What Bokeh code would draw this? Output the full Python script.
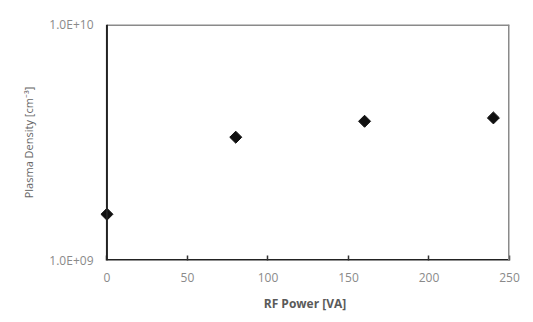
import math
from bokeh.plotting import figure
from bokeh.models import FixedTicker, CustomJSTickFormatter, ColumnDataSource, Span
from bokeh.embed import file_html
from bokeh.resources import INLINE

# RF power sweep vs. measured plasma density
rf_power = [0, 80, 160, 240]
plasma_density = [1.57e9, 3.33e9, 3.89e9, 4.02e9]
x_ticks = [0, 50, 100, 150, 200, 250]
y_ticks = [1e9, 1e10]

x_lo, x_hi = 0, 250
y_lo, y_hi = 1e9, 1e10
pad = 4  # small margin left of x=0 so the first marker is not cut by the frame

src = ColumnDataSource(dict(x=rf_power, y=plasma_density))

p = figure(width=533, height=322, output_backend="svg", toolbar_location=None,
           x_range=(x_lo - pad, x_hi), y_range=(y_lo, y_hi), y_axis_type="log",
           min_border_left=100, min_border_right=24, min_border_top=24,
           min_border_bottom=62)

p.grid.visible = False
p.outline_line_color = None
p.background_fill_color = "white"
p.border_fill_color = "white"

# plot-area box: dark left/bottom, grey top/right
p.segment(x0=[x_lo], y0=[y_hi], x1=[x_hi], y1=[y_hi], line_color="#8a8a8a", line_width=3)
p.add_layout(Span(location=x_hi, dimension="height", line_color="#8a8a8a", line_width=3))
p.segment(x0=[x_lo], y0=[y_lo], x1=[x_hi], y1=[y_lo], line_color="#222222", line_width=3)
p.add_layout(Span(location=x_lo, dimension="height", line_color="#222222", line_width=2))

p.scatter("x", "y", source=src, marker="square", size=8.5, angle=math.pi / 4,
          fill_color="#111111", line_color="#111111")

font = "Open Sans"
xa = p.xaxis[0]
xa.ticker = FixedTicker(ticks=x_ticks)
xa.axis_line_color = None
xa.major_tick_in = 5
xa.major_tick_out = 0
xa.major_tick_line_color = "#333333"
xa.major_tick_line_width = 1.5
xa.minor_tick_line_color = None
xa.major_label_text_font = font
xa.major_label_text_font_size = "12px"
xa.major_label_text_color = "#8a8a8a"
xa.major_label_standoff = 12
xa.axis_label = "RF Power [VA]"
xa.axis_label_text_font = font
xa.axis_label_text_font_size = "12px"
xa.axis_label_text_font_style = "bold"
xa.axis_label_text_color = "#5a5a5a"
xa.axis_label_standoff = 10

ya = p.yaxis[0]
ya.ticker = FixedTicker(ticks=y_ticks)
ya.formatter = CustomJSTickFormatter(code="""
const e = Math.round(Math.log10(tick));
return "1.0E+" + String(e).padStart(2, "0");
""")
ya.axis_line_color = None
ya.major_tick_line_color = None
ya.major_tick_in = 0
ya.major_tick_out = 0
ya.minor_tick_line_color = None
ya.major_label_text_font = font
ya.major_label_text_font_size = "12px"
ya.major_label_text_color = "#8a8a8a"
ya.major_label_standoff = 7
ya.axis_label = "Plasma Density [cm\u207b\u00b3]"
ya.axis_label_text_font = font
ya.axis_label_text_font_size = "11px"
ya.axis_label_text_font_style = "normal"
ya.axis_label_text_color = "#666666"
ya.axis_label_standoff = 10

open("out.html", "w").write(file_html(p, INLINE))
